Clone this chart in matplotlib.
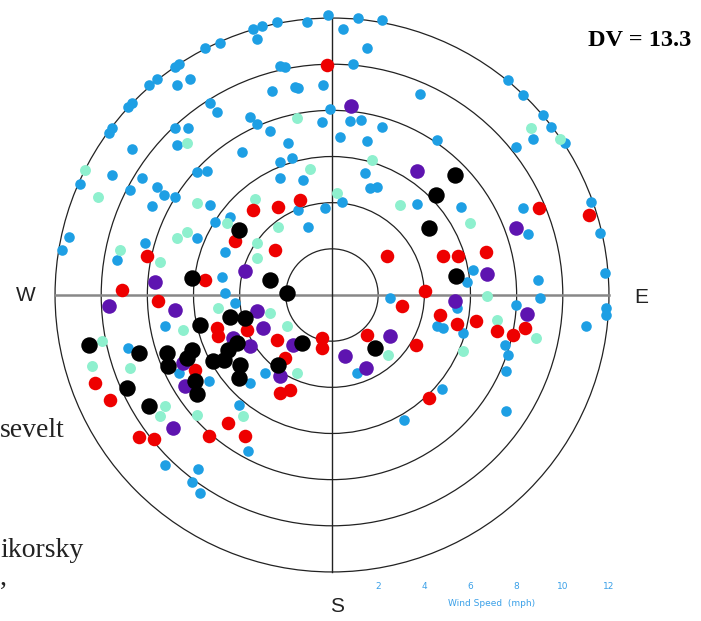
import matplotlib
matplotlib.use("Agg")
import matplotlib.pyplot as plt
from matplotlib.patches import Circle
import numpy as np

# Wind components (mph): east (+) / north (+)
blue_east = [-0.16, -1.10, -2.40, -3.04, -3.43, -3.26, -4.85, -5.50, -2.25, -2.03, -6.65, -6.80, -6.15, -6.72,
             -7.59, -7.91, -0.38, -1.60, -1.46, -2.61, -8.67, -8.86, -5.28, -4.99, -0.09, -3.55, -3.26, -0.45,
             -2.68, -9.54, -9.68, -6.80, -6.22, -6.72, -8.67, -3.91, -1.89, -1.75, -2.25, -9.54, -5.86, -5.43,
             -8.24, -2.25, -1.24, -10.91, -8.74, -7.59, -7.30, -6.80, -7.81, -5.28, -0.30, -1.46, -5.06, -4.42,
             -1.02, -5.86, -11.41, -11.70, -8.10, -4.63, -9.32, -4.78, -4.63,
             1.14, 2.15, 0.49, 1.50, 0.89, 3.81, 7.63, 8.28, 9.15, 9.51, 8.72, 10.09, 7.99, 0.78, 1.24, 2.15,
             0.35, 1.50, 4.53, 1.43, 1.65, 1.93, 3.69, 5.61, 8.28, 11.24, 11.63, 11.82, 0.42, 8.50, 6.12, 5.83,
             8.93,
             -7.23, -4.20, -8.82, -6.65, -5.35, -3.55, -2.90, -4.05, -3.62, -7.23, -5.79, -6.08, -5.74,
             2.51, 5.40, 4.53, 4.82, 5.69, 7.99, 9.00, 7.49, 7.63, 7.56, 7.56, 11.02, 11.89, 11.89, 1.07, 4.75,
             3.12]
blue_north = [12.12, 11.83, 11.83, 11.66, 11.54, 11.11, 10.94, 10.71, 9.93, 9.88, 10.03, 9.88, 9.35, 9.12,
              9.35, 9.09, 9.12, 9.02, 8.95, 8.83, 8.30, 8.15, 8.30, 7.91, 8.05, 7.72, 7.43, 7.50,
              7.10, 7.22, 7.00, 7.22, 7.22, 6.49, 6.32, 6.20, 6.57, 5.92, 5.77, 5.19, 5.34, 5.37,
              5.05, 5.05, 4.98, 4.83, 4.55, 4.69, 4.33, 4.26, 3.87, 3.90, 3.78, 3.68, 3.17, 3.39,
              2.96, 2.45, 2.53, 1.95, 2.24, 1.88, 1.52, 0.79, 0.07,
              12.01, 11.90, 11.52, 10.71, 9.99, 8.69, 9.31, 8.66, 7.79, 7.29, 6.78, 6.57, 6.42, 7.53, 7.58, 7.29,
              6.85, 6.67, 6.71, 5.27, 4.62, 4.69, 3.94, 3.82, 3.75, 4.04, 2.67, 0.94, 4.01, 2.63, 1.08, 0.58,
              0.65,
              -1.36, -0.35, -2.29, -3.38, -3.74, -3.81, -3.38, -4.75, -6.77, -7.35, -7.53, -8.11, -8.57,
              -0.13, -0.56, -1.36, -1.43, -1.65, -0.42, -0.13, -2.15, -2.58, -3.30, -5.04, -1.36, -0.56, -0.85,
              -3.38, -4.07, -5.43]

mint_east = [-1.53, -6.29, -0.95, -10.69, -10.12, -3.33, -5.86, -4.56, -2.32, -6.29, -6.72, -3.26, -9.18, -7.45,
             -3.26, 8.64, 9.87, 1.72, 2.94, 0.20, 5.97, -6.44, -4.92, -2.68, -1.96, -9.97, -10.40, -8.74, -1.53,
             -3.84, -5.86, -7.23, -7.45, 6.70, 7.13, 5.69, 8.86, 2.44]
mint_north = [7.65, 6.57, 5.48, 5.41, 4.26, 4.18, 3.97, 3.10, 2.96, 2.74, 2.45, 2.24, 1.95, 1.44,
              1.59, 7.22, 6.78, 5.84, 3.90, 4.40, 3.10, -1.50, -0.56, -0.78, -1.36, -2.01, -3.09, -3.16, -3.38,
              -5.25, -5.18, -4.82, -5.25, -0.06, -1.07, -2.44, -1.86, -2.58]

red_east = [-0.23, -1.39, -3.41, -2.32, -4.20, -8.02, -2.47, -5.50, -9.11,
            8.98, 11.14, 2.37, 4.82, 5.44, 6.67, 4.03,
            -7.52, -4.99, -4.92, -3.69, -2.40, -0.45, -0.45, -10.26, -9.61, -5.93, -2.03, -2.25, -1.82, -4.49,
            -3.77, -5.35, -8.38, -7.73,
            3.02, 4.68, 5.40, 6.26, 7.13, 8.35, 7.85, 1.50, 3.64, 4.21]
red_north = [9.96, 4.11, 3.68, 3.82, 2.34, 1.70, 1.95, 0.65, 0.22,
             3.78, 3.46, 1.70, 1.70, 1.70, 1.85, 0.17,
             -0.27, -1.43, -1.79, -1.50, -1.93, -1.86, -2.29, -3.81, -4.53, -3.23, -2.73, -4.24, -4.10, -5.54,
             -6.09, -6.09, -6.15, -6.26,
             -0.46, -0.85, -1.24, -1.14, -1.57, -1.43, -1.72, -1.72, -2.15, -4.46]

purple_east = [-3.77, -7.66, 0.81, 3.69, 7.97, 6.72, -9.68, -6.80, -3.26, -2.97, -1.67, -6.44, -6.36, -4.27,
               -3.55, -2.25, -6.87, 5.32, 8.46, 2.51, 0.56, 1.47]
purple_north = [1.05, 0.58, 8.20, 5.38, 2.91, 0.89, -0.49, -0.66, -0.71, -1.43, -2.15, -2.94, -3.95, -1.86,
                -2.22, -3.52, -5.76, -0.27, -0.81, -1.79, -2.63, -3.16]

black_east = [-4.05, -6.08, -2.68, -1.96, 5.32, 4.50, 4.21, 5.37, -5.74, -4.42, -3.77, -1.31, -10.55, -8.38,
              -8.89, -7.95, -7.16, -7.09, -6.29, -6.08, -5.93, -5.86, -5.14, -4.70, -4.49, -4.13, -3.98, -4.05,
              -2.32, 1.86]
black_north = [2.81, 0.72, 0.65, 0.07, 5.22, 4.33, 2.91, 0.84, -1.28, -0.95, -1.00, -2.08, -2.15, -2.51,
               -4.03, -4.82, -2.51, -3.09, -2.73, -2.37, -3.74, -4.31, -2.87, -2.80, -2.37, -2.08, -3.02, -3.59,
               -3.02, -2.29]

ring_speeds = [2, 4, 6, 8, 10, 12]
ring_labels = ["2", "4", "6", "8", "10", "12"]
compass = {"W": (-13.25, 0.0), "E": (13.4, -0.1), "S": (0.2, -13.5)}

fig = plt.figure(figsize=(7.01, 6.21), dpi=100)
ax = fig.add_axes([0, 0, 1, 1])
ax.set_xlim(-14.385, 15.988)
ax.set_ylim(-14.125, 12.782)
ax.set_aspect("equal")
ax.axis("off")

for r in ring_speeds:
    ax.add_patch(Circle((0, 0), r, fill=False, ec="#222222", lw=0.9, zorder=1))
rmax = ring_speeds[-1]
ax.plot([-rmax, rmax], [0, 0], color="#888888", lw=1.8, zorder=1)
ax.plot([0, 0], [-rmax, rmax], color="#222222", lw=1.0, zorder=1)

ax.scatter(blue_east, blue_north, s=58, c="#1E9FE4", lw=0, zorder=2)
ax.scatter(mint_east, mint_north, s=62, c="#8EF0CE", lw=0, zorder=3)
ax.scatter(red_east, red_north, s=95, c="#EE0000", lw=0, zorder=4)
ax.scatter(purple_east, purple_north, s=110, c="#5E14B0", lw=0, zorder=5)
ax.scatter(black_east, black_north, s=140, c="#000000", lw=0, zorder=6)

for lab, (x, y) in compass.items():
    ax.text(x, y, lab, fontsize=15, family="Liberation Sans", ha="center", va="center", color="#222222")

for r, lab in zip(ring_speeds, ring_labels):
    ax.text(r, -12.65, lab, fontsize=6.5, color="#3AA0E8", ha="center", va="center", family="DejaVu Sans")
ax.text(6.9, -13.35, "Wind Speed  (mph)", fontsize=6.5, color="#3AA0E8", ha="center", va="center",
        family="DejaVu Sans")

fig.text(0.839, 0.935, "DV = 13.3", fontsize=17.5, fontweight="bold", family="Liberation Serif",
         ha="left", va="center")
fig.text(0.0, 0.306, "sevelt", fontsize=20, family="Liberation Serif", ha="left", va="center", color="#222222")
fig.text(0.0, 0.113, "ikorsky", fontsize=20, family="Liberation Serif", ha="left", va="center", color="#222222")
fig.text(0.0, 0.068, ",", fontsize=20, family="Liberation Serif", ha="left", va="center", color="#222222")

fig.savefig("out.png", dpi=100, facecolor="white")
